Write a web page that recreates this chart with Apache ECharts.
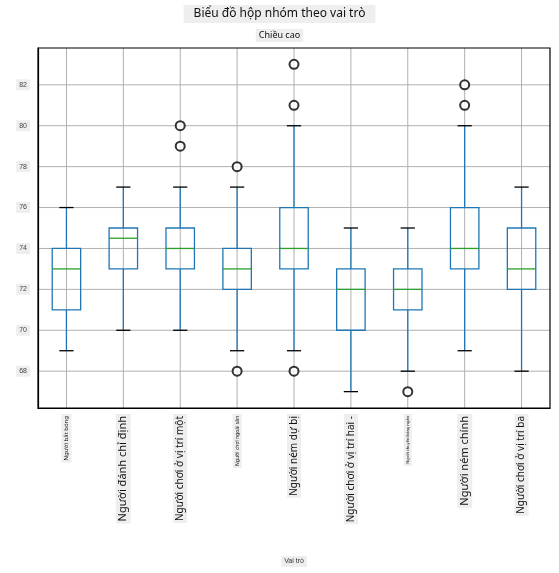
<!DOCTYPE html>
<html>
<head>
<meta charset="utf-8">
<script src="https://cdn.jsdelivr.net/npm/echarts@6/dist/echarts.min.js"></script>
<style>html,body{margin:0;padding:0;background:#fff}#main{width:559px;height:573px}</style>
</head>
<body>
<div id="main"></div>
<script>
// vai trò
var roles = ["Người bắt bóng","Người đánh chỉ định","Người chơi ở vị trí một","Người chơi ngoài sân","Người ném dự bị","Người chơi ở vị trí hai -","Người chuyền bóng ngắn","Người ném chính","Người chơi ở vị trí ba"];
var lowVals = [69,70,70,69,69,67,68,69,68];
var q1Vals = [71,73,73,72,73,70,71,73,72];
var medVals = [73,74.5,74,73,74,72,72,74,73];
var q3Vals = [74,75,75,74,76,73,73,76,75];
var highVals = [76,77,77,77,80,75,75,80,77];
var outliers = [[2,79],[2,80],[3,78],[3,68],[4,81],[4,83],[4,68],[6,67],[7,81],[7,82]];
var yTicks = [68,70,72,74,76,78,80,82];
var labelSizes = [6,11,10,5,10,10,4,11,10];

var boxData = [];
for (var i = 0; i < roles.length; i++) {
    boxData.push([i, lowVals[i], q1Vals[i], medVals[i], q3Vals[i], highVals[i]]);
}

var rich = {};
for (var i = 0; i < roles.length; i++) {
    rich["s" + i] = {fontSize: labelSizes[i], backgroundColor: "#eeeeee", padding: [2, 2]};
}

var myChart = echarts.init(document.getElementById("main"));

function renderBox(params, api) {
    var x = api.value(0);
    var lo = api.coord([x, api.value(1)]);
    var q1 = api.coord([x, api.value(2)]);
    var md = api.coord([x, api.value(3)]);
    var q3 = api.coord([x, api.value(4)]);
    var hi = api.coord([x, api.value(5)]);
    var w = api.size([1, 0])[0] * 0.5;
    var cap = w / 2;
    var cx = lo[0];
    var blue = {stroke: "#1f77b4", lineWidth: 1.3, fill: null};
    return {
        type: "group",
        children: [
            {type: "line", shape: {x1: cx, y1: lo[1], x2: cx, y2: q1[1]}, style: blue},
            {type: "line", shape: {x1: cx, y1: q3[1], x2: cx, y2: hi[1]}, style: blue},
            {type: "rect", shape: {x: cx - w / 2, y: q3[1], width: w, height: q1[1] - q3[1]}, style: blue},
            {type: "line", shape: {x1: cx - w / 2, y1: md[1], x2: cx + w / 2, y2: md[1]}, style: {stroke: "#2ca02c", lineWidth: 1.3}},
            {type: "line", shape: {x1: cx - cap / 2, y1: lo[1], x2: cx + cap / 2, y2: lo[1]}, style: {stroke: "#000", lineWidth: 1.3}},
            {type: "line", shape: {x1: cx - cap / 2, y1: hi[1], x2: cx + cap / 2, y2: hi[1]}, style: {stroke: "#000", lineWidth: 1.3}}
        ]
    };
}

var option = {
    animation: false,
    title: [
        {text: "Biểu đồ hộp nhóm theo vai trò", left: "center", top: 5,
         textStyle: {fontSize: 12, fontWeight: "normal", color: "#111", fontFamily: "Noto Sans"},
         backgroundColor: "#eeeeee", padding: [3, 10]},
        {text: "Chiều cao", left: "center", top: 29,
         textStyle: {fontSize: 9, fontWeight: "normal", color: "#111", fontFamily: "Noto Sans"},
         backgroundColor: "#eeeeee", padding: [2, 3]}
    ],
    grid: {left: 38, right: 9, top: 48, bottom: 165},
    xAxis: {
        type: "value", min: -0.5, max: 8.5, interval: 1,
        name: "Vai trò", nameLocation: "middle", nameGap: 148,
        nameTextStyle: {fontSize: 7, color: "#333", backgroundColor: "#eeeeee", padding: [2, 3]},
        axisLine: {lineStyle: {color: "#000", width: 1.2}},
        axisTick: {show: false},
        splitLine: {show: false},
        axisLabel: {
            rotate: 90, margin: 6, color: "#111", fontFamily: "Noto Sans",
            customValues: [0,1,2,3,4,5,6,7,8],
            formatter: function(v) { var i = Math.round(v); return "{s" + i + "|" + roles[i] + "}"; },
            rich: rich
        }
    },
    yAxis: {
        type: "value", min: 66.2, max: 83.8,
        axisLine: {show: true, onZero: false, lineStyle: {color: "#000", width: 1.2}},
        axisTick: {show: false},
        splitLine: {show: false},
        axisLabel: {fontSize: 7, color: "#444", customValues: yTicks, backgroundColor: "#eeeeee", padding: [2, 3]}
    },
    series: [
        {
            // lưới
            type: "custom", silent: true, z: 0,
            data: [0],
            renderItem: function(params, api) {
                var ch = [];
                var cs = params.coordSys;
                for (var i = 0; i < roles.length; i++) {
                    var p = api.coord([i, 70]);
                    ch.push({type: "line", shape: {x1: p[0], y1: cs.y, x2: p[0], y2: cs.y + cs.height}, style: {stroke: "#b0b0b0", lineWidth: 1}});
                }
                for (var j = 0; j < yTicks.length; j++) {
                    var q = api.coord([0, yTicks[j]]);
                    ch.push({type: "line", shape: {x1: cs.x, y1: q[1], x2: cs.x + cs.width, y2: q[1]}, style: {stroke: "#b0b0b0", lineWidth: 1}});
                }
                ch.push({type: "rect", shape: {x: cs.x, y: cs.y, width: cs.width, height: cs.height}, style: {stroke: "#000", lineWidth: 1.2, fill: null}});
                return {type: "group", children: ch};
            }
        },
        {type: "custom", z: 2, data: boxData, renderItem: renderBox, encode: {x: 0, y: [1, 5]}},
        {type: "scatter", z: 3, data: outliers, symbol: "emptyCircle", symbolSize: 9,
         itemStyle: {color: "#000", borderColor: "#000", borderWidth: 1.5}}
    ]
};

myChart.setOption(option);
</script>
</body>
</html>
